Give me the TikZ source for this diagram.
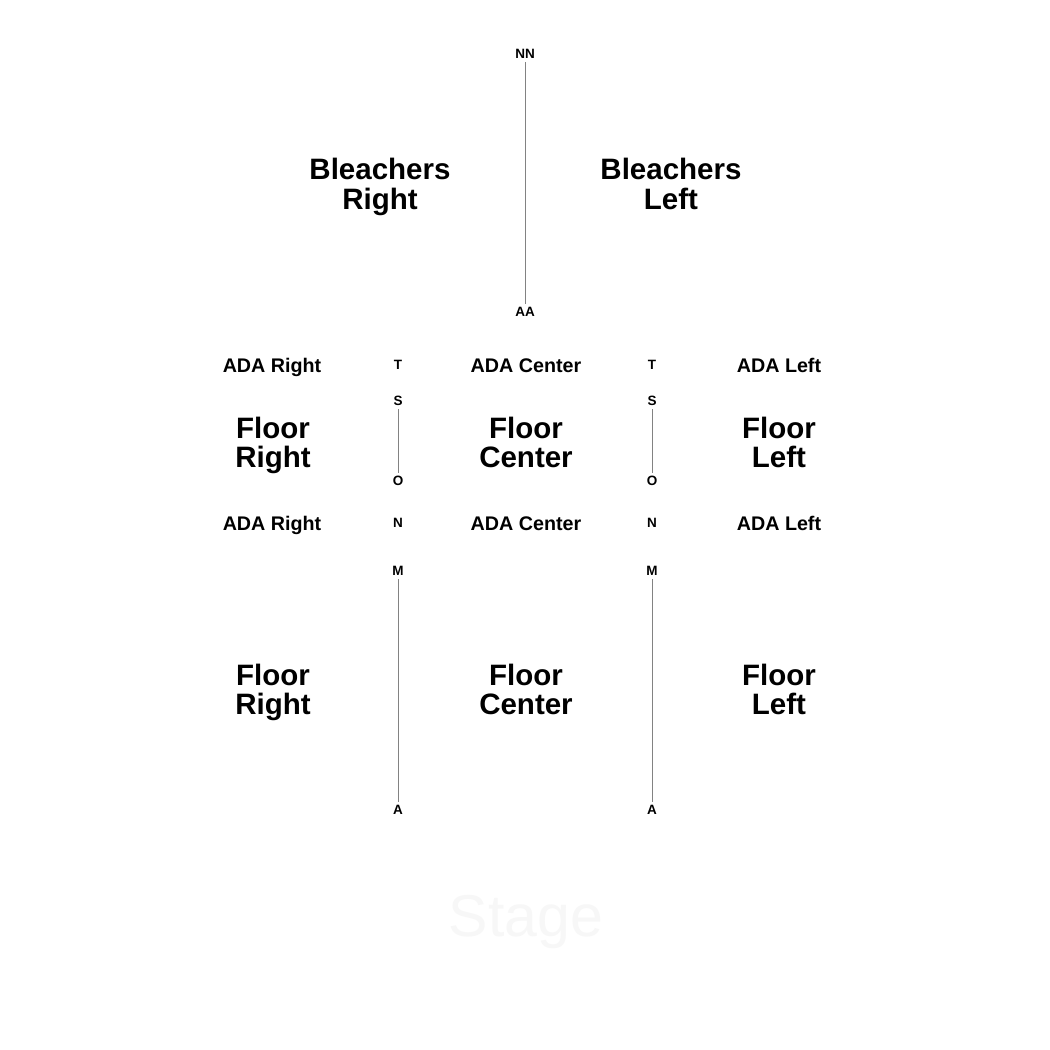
\documentclass[tikz,border=0pt]{standalone}
\usepackage{fontspec}
\setmainfont{Liberation Sans}
\usepackage{xcolor}
\usepackage{tikz}
\usetikzlibrary{positioning}

\definecolor{rowline}{RGB}{130,130,130}
\definecolor{stagegray}{RGB}{247,247,247}

\tikzset{
  big/.style={font=\bfseries\fontsize{29.5}{29.5}\selectfont, align=center},
  ada/.style={font=\bfseries\fontsize{19.7}{22}\selectfont, text height=14.1pt, text depth=0pt},
  row/.style={font=\bfseries\fontsize{13.5}{15}\selectfont, text height=9.7pt, text depth=0pt},
  aisle/.style={draw=rowline, line width=1pt}
}

\begin{document}
\begin{tikzpicture}

\useasboundingbox[fill=white] (0,0) rectangle (1050pt,-1050pt);
\coordinate(O1) at (0,0);

% bleachers
\node[row, below right=54pt and 525pt of O1, anchor=center](nn) {NN};
\node[row, below right=312pt and 525pt of O1, anchor=center](aa) {AA};
\node[big, below right=187pt and 380pt of O1, anchor=center](br) {Bleachers\\Right};
\node[big, below right=184pt and 671pt of O1, anchor=center](bl) {Bleachers\\Left};

% ada rows
\node[ada, below right=365pt and 272pt of O1, anchor=center](adar1) {ADA Right};
\node[ada, below right=365pt and 526pt of O1, anchor=center](adac1) {ADA Center};
\node[ada, below right=365pt and 779pt of O1, anchor=center](adal1) {ADA Left};
\node[ada, below right=523pt and 272pt of O1, anchor=center](adar2) {ADA Right};
\node[ada, below right=523pt and 526pt of O1, anchor=center](adac2) {ADA Center};
\node[ada, below right=523pt and 779pt of O1, anchor=center](adal2) {ADA Left};

% row letters, right aisle
\node[row, below right=365pt and 398pt of O1, anchor=center](tr) {T};
\node[row, below right=401pt and 398pt of O1, anchor=center](sr) {S};
\node[row, below right=481pt and 398pt of O1, anchor=center](or) {O};
\node[row, below right=523pt and 398pt of O1, anchor=center](nr) {N};
\node[row, below right=571pt and 398pt of O1, anchor=center](mr) {M};
\node[row, below right=810pt and 398pt of O1, anchor=center](ar) {A};

% row letters, left aisle
\node[row, below right=365pt and 652pt of O1, anchor=center](tl) {T};
\node[row, below right=401pt and 652pt of O1, anchor=center](sl) {S};
\node[row, below right=481pt and 652pt of O1, anchor=center](ol) {O};
\node[row, below right=523pt and 652pt of O1, anchor=center](nl) {N};
\node[row, below right=571pt and 652pt of O1, anchor=center](ml) {M};
\node[row, below right=810pt and 652pt of O1, anchor=center](al) {A};

% floor sections
\node[big, below right=445.5pt and 273pt of O1, anchor=center](fr1) {Floor\\Right};
\node[big, below right=442.5pt and 526pt of O1, anchor=center](fc1) {Floor\\Center};
\node[big, below right=442.5pt and 779pt of O1, anchor=center](fl1) {Floor\\Left};
\node[big, below right=692.5pt and 273pt of O1, anchor=center](fr2) {Floor\\Right};
\node[big, below right=689.5pt and 526pt of O1, anchor=center](fc2) {Floor\\Center};
\node[big, below right=689.5pt and 779pt of O1, anchor=center](fl2) {Floor\\Left};

\node[below right=922pt and 526pt of O1, anchor=center, text=stagegray, font=\fontsize{59}{64}\selectfont](stage) {Stage};

\draw[aisle] (nn) -- (aa);
\draw[aisle] (sr) -- (or);
\draw[aisle] (sl) -- (ol);
\draw[aisle] (mr) -- (ar);
\draw[aisle] (ml) -- (al);
\end{tikzpicture}
\end{document}
